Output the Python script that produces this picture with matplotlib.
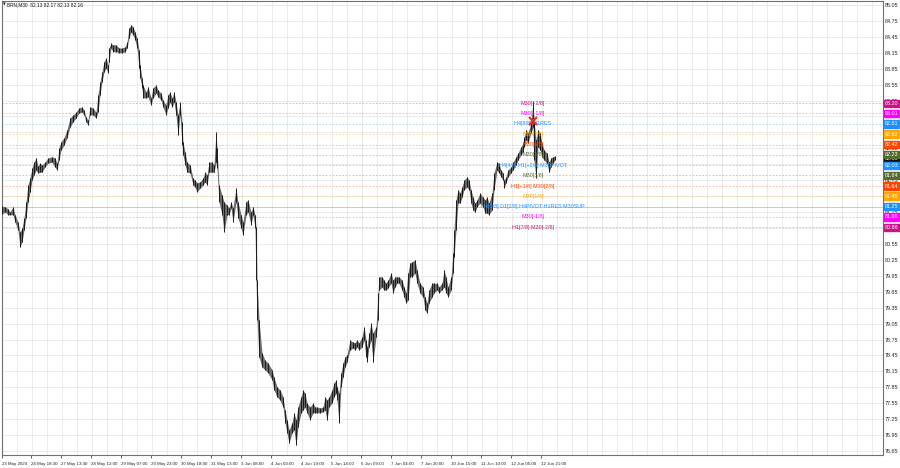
import matplotlib
matplotlib.use("Agg")
import matplotlib.pyplot as plt
from matplotlib.ticker import FixedLocator

plt.rcParams["font.family"] = ["Liberation Sans", "DejaVu Sans"]

TITLE = "BRN,M30  82.13 82.17 82.13 82.16"

# bar index (M30 bars from 23 May 2024) with high / low
bars = [0, 3, 6, 8, 11, 13, 16, 18, 20, 22, 24, 26, 28, 30, 32, 34, 36, 38, 40, 43,
        46, 50, 53, 55, 57, 59, 62, 65, 68, 71, 74, 77, 80, 82, 84, 86, 88, 91, 94, 96,
        98, 100, 102, 104, 106, 107, 109, 111, 114, 117, 120, 123, 125, 127, 129, 131, 133, 135, 137, 138,
        140, 141, 144, 146, 149, 151, 154, 156, 159, 161, 164, 166, 168, 170, 172, 174, 176, 178, 180, 181,
        183, 185, 188, 191, 193, 195, 198, 201, 203, 205, 207, 210, 212, 214, 215, 217, 220, 222, 225, 227,
        229, 231, 234, 236, 239, 241, 244, 246, 249, 251, 253, 254, 255, 257, 260, 263, 266, 270, 272, 275,
        278, 281, 283, 285, 287, 290, 292, 294, 296, 299, 301, 303, 305, 308, 311, 313, 315, 318, 321, 323,
        325, 327, 330, 332, 334, 335, 337, 339, 341, 343, 345, 348, 351, 353, 355, 357, 360, 362, 364, 365,
        367, 369, 371, 374, 376, 377, 380, 382, 384, 386, 389, 391, 393, 395, 397, 400, 402, 404, 406, 408,
        410, 413, 415, 418, 421, 423, 425, 427, 430, 432, 435, 437, 440, 442, 444, 446, 449, 451, 452, 454,
        456, 458, 460, 462, 465, 467, 469, 471, 473, 475, 478, 481, 483, 485, 487, 490, 492, 495, 497, 499,
        501, 502, 504, 506, 509, 511, 514, 516, 519, 521, 522, 524, 526, 529, 531, 532, 534, 536, 538, 540,
        542, 545, 547, 549, 551, 553]

highs = [81.26, 81.25, 81.21, 81.15, 81.25, 81.10, 80.96, 80.77, 80.85, 81.04, 81.34, 81.66, 81.79, 81.98, 82.09, 82.17, 82.02, 82.07, 82.04, 82.09,
         82.17, 82.19, 82.17, 82.07, 82.36, 82.47, 82.55, 82.70, 82.92, 82.98, 83.03, 83.11, 83.13, 83.07, 82.94, 82.88, 83.13, 83.11, 83.03, 83.36,
         83.60, 83.79, 83.98, 84.05, 83.92, 84.24, 84.33, 84.30, 84.30, 84.24, 84.24, 84.26, 84.35, 84.62, 84.67, 84.64, 84.54, 84.43, 84.20, 83.92,
         83.68, 83.54, 83.41, 83.51, 83.30, 83.49, 83.54, 83.45, 83.39, 83.26, 83.17, 83.36, 83.41, 83.30, 83.41, 83.22, 82.98, 83.22, 82.85, 82.47,
         82.28, 82.09, 82.04, 81.79, 81.75, 81.70, 81.72, 81.79, 81.90, 81.85, 82.09, 82.09, 82.04, 82.66, 82.36, 81.66, 81.47, 81.34, 81.28, 81.23,
         81.34, 81.23, 81.60, 81.34, 81.10, 80.96, 81.34, 81.38, 81.15, 81.25, 81.10, 80.87, 79.87, 79.12, 78.50, 78.36, 78.31, 78.18, 78.04, 77.86,
         77.80, 77.67, 77.42, 77.24, 77.05, 77.18, 77.37, 77.24, 77.48, 77.67, 77.80, 77.74, 77.55, 77.48, 77.55, 77.48, 77.48, 77.46, 77.48, 77.67,
         77.61, 77.67, 77.80, 77.93, 77.99, 77.86, 77.74, 78.12, 78.31, 78.42, 78.46, 78.74, 78.70, 78.69, 78.74, 78.69, 78.80, 78.99, 78.74, 78.61,
         78.87, 79.06, 78.87, 78.99, 79.63, 79.93, 79.93, 79.87, 79.81, 79.87, 80.00, 79.87, 79.93, 79.93, 79.93, 79.87, 79.74, 79.63, 80.00, 80.19,
         80.21, 80.25, 80.06, 79.81, 79.74, 79.55, 79.44, 79.68, 79.81, 79.81, 79.81, 79.74, 79.81, 80.06, 79.93, 79.74, 79.93, 80.38, 80.81, 81.38,
         81.57, 81.51, 81.62, 81.75, 81.81, 81.75, 81.57, 81.43, 81.32, 81.38, 81.51, 81.43, 81.38, 81.43, 81.32, 81.51, 81.89, 82.09, 82.07, 81.94,
         81.89, 81.75, 81.81, 81.94, 82.00, 82.09, 82.19, 82.26, 82.38, 82.45, 82.56, 82.70, 82.64, 82.83, 83.24, 82.88, 82.51, 82.70, 82.64, 82.45,
         82.32, 82.26, 82.09, 82.17, 82.19, 82.21]

lows = [81.11, 81.15, 81.10, 81.10, 81.10, 80.96, 80.81, 80.49, 80.59, 80.81, 81.04, 81.34, 81.53, 81.75, 81.85, 81.94, 81.89, 81.90, 81.90, 82.00,
        82.07, 82.09, 82.00, 81.94, 82.13, 82.32, 82.41, 82.55, 82.75, 82.85, 82.92, 83.02, 83.03, 82.98, 82.85, 82.79, 82.98, 82.98, 82.92, 83.03,
        83.36, 83.60, 83.79, 83.86, 83.77, 83.98, 84.24, 84.17, 84.17, 84.15, 84.15, 84.17, 84.24, 84.43, 84.54, 84.49, 84.39, 84.24, 83.86, 83.68,
        83.49, 83.30, 83.30, 83.32, 83.17, 83.30, 83.39, 83.32, 83.26, 83.13, 82.98, 83.11, 83.22, 83.13, 83.22, 82.98, 82.60, 82.98, 82.41, 82.23,
        82.04, 81.90, 81.89, 81.66, 81.62, 81.53, 81.60, 81.66, 81.72, 81.66, 81.90, 81.90, 81.90, 82.09, 81.98, 81.34, 81.10, 80.77, 81.10, 81.10,
        81.23, 80.96, 81.34, 81.04, 80.85, 80.72, 81.10, 81.15, 80.91, 81.10, 80.85, 79.87, 79.12, 78.42, 78.23, 78.18, 78.12, 77.99, 77.80, 77.67,
        77.61, 77.48, 77.18, 76.99, 76.80, 76.99, 77.05, 76.76, 77.10, 77.37, 77.42, 77.48, 77.37, 77.24, 77.37, 77.37, 77.37, 77.37, 77.39, 77.42,
        77.24, 77.48, 77.55, 77.67, 77.74, 77.61, 77.18, 77.86, 78.04, 78.23, 78.33, 78.55, 78.59, 78.55, 78.61, 78.55, 78.61, 78.74, 78.42, 78.33,
        78.61, 78.74, 78.33, 78.80, 79.12, 79.68, 79.74, 79.68, 79.68, 79.72, 79.81, 79.63, 79.74, 79.81, 79.81, 79.68, 79.55, 79.44, 79.49, 79.93,
        79.93, 80.00, 79.81, 79.63, 79.55, 79.31, 79.25, 79.44, 79.55, 79.63, 79.68, 79.63, 79.68, 79.74, 79.63, 79.55, 79.68, 80.00, 80.30, 80.81,
        81.32, 81.32, 81.43, 81.57, 81.62, 81.57, 81.32, 81.19, 81.15, 81.25, 81.32, 81.25, 81.13, 81.13, 81.10, 81.19, 81.57, 81.94, 81.89, 81.81,
        81.75, 81.60, 81.70, 81.81, 81.89, 81.94, 82.04, 82.13, 82.23, 82.28, 82.38, 82.51, 82.45, 82.64, 82.75, 82.13, 81.79, 82.38, 82.32, 82.19,
        82.13, 82.07, 81.90, 82.00, 82.07, 82.13]

# Murrey math levels (M30 grid with H1/H4/D1 confluences)
mm_prices = [83.20, 83.01, 82.81, 82.62, 82.42, 82.23, 82.03, 81.84, 81.64, 81.45, 81.25, 81.06, 80.86]
mm_texts = ["M30[+2/8]", "M30[+1/8]", "H4[8/8] H1RES", "M30[7/8]", "M30[6/8]", "M30[5/8]",
            "H4[4/8] H1[+2/8] M30PIVOT", "M30[3/8]", "H1[+1/8] M30[2/8]", "M30[1/8]",
            "H4[0/8] D1[2/8] H4PIVOT H1RES M30SUP", "M30[-1/8]", "H1[7/8] M30[-2/8]"]
mm_colors = ["#C71585", "#FF00FF", "#1E90FF", "#FFA500", "#FF4500", "#556B2F", "#1E90FF",
             "#556B2F", "#FF4500", "#FFA500", "#1E90FF", "#FF00FF", "#C71585"]
mm_solid = [False, False, False, False, False, False, False, False, False, False, True, False, False]
mm_label_bar = 531

signal_bar = 531
signal_price = 82.87
bid_price = 82.16

y_ticks = [85.05, 84.75, 84.45, 84.15, 83.85, 83.55, 83.25, 82.95, 82.65, 82.35,
           82.05, 81.75, 81.45, 81.15, 80.85, 80.55, 80.25, 79.95, 79.65, 79.35,
           79.05, 78.75, 78.45, 78.15, 77.85, 77.55, 77.25, 76.95, 76.65]
y_tick_labels = ["%.2f" % v for v in y_ticks]

x_labels = ["23 May 2024", "24 May 18:30", "27 May 13:30", "28 May 12:00", "29 May 07:00",
            "29 May 23:00", "30 May 18:00", "31 May 13:00", "3 Jun 08:00", "4 Jun 03:00",
            "4 Jun 19:00", "5 Jun 14:00", "6 Jun 09:00", "7 Jun 04:00", "7 Jun 20:00",
            "10 Jun 15:00", "11 Jun 10:00", "12 Jun 05:00", "12 Jun 21:00"]
x_label_bars = [0, 29, 59, 89, 119, 149, 179, 209, 239, 269, 299, 329, 359, 389, 419,
                449, 479, 509, 539]
grid_bars = list(range(0, 882, 15))

W, H = 900, 468
fig = plt.figure(figsize=(W / 100, H / 100), dpi=100)
ax = fig.add_axes([2 / W, 1 - 455 / H, 881 / W, 454 / H])
ax.set_xlim(0, 881)
ax.set_ylim(76.575, 85.125)

# grid
for b in grid_bars:
    ax.axvline(b, color="#e8e8e8", lw=0.6, zorder=0)
for p in y_ticks:
    ax.axhline(p, color="#e8e8e8", lw=0.6, zorder=0)

# level lines
for p, c, solid in zip(mm_prices, mm_colors, mm_solid):
    if solid:
        ax.axhline(p, color=c, lw=0.7, alpha=0.4, zorder=1)
    else:
        ax.axhline(p, color=c, lw=0.6, alpha=0.4, ls=(0, (2, 2)), zorder=1)

# price bars
ax.fill_between(bars, lows, highs, color="#6a6a6a", lw=0, zorder=3)
ax.vlines(bars, lows, highs, color="#1a1a1a", lw=0.7, zorder=4)

# level texts on chart
for p, t, c in zip(mm_prices, mm_texts, mm_colors):
    ax.text(mm_label_bar, p, t, color=c, fontsize=3.9, ha="center", va="center", zorder=6)

ax.plot([signal_bar], [signal_price], marker="x", color="#E8302A", ms=6, mew=1.6, zorder=7)

# axes styling
for s in ax.spines.values():
    s.set_color("#707070")
    s.set_linewidth(0.8)
ax.yaxis.tick_right()
ax.yaxis.set_major_locator(FixedLocator(y_ticks))
ax.set_yticklabels(y_tick_labels)
ax.tick_params(axis="y", length=0, pad=1.5, labelsize=3.9, colors="#222222")
ax.xaxis.set_major_locator(FixedLocator(x_label_bars))
ax.set_xticklabels(x_labels, ha="left")
ax.tick_params(axis="x", length=2, pad=3, labelsize=3.2, colors="#222222", width=0.5)

# coloured price tags on the right scale
tag_kw = dict(xycoords=("axes fraction", "data"), textcoords="offset points",
              ha="left", va="center", fontsize=3.9, color="white", zorder=10,
              annotation_clip=False)
ax.annotate("%.2f" % bid_price, xy=(1, bid_price), xytext=(1.3, 0),
            bbox=dict(boxstyle="square,pad=0.22", fc="#111111", ec="#111111"), **tag_kw)
for p, c in zip(mm_prices, mm_colors):
    ax.annotate("%.2f" % p, xy=(1, p), xytext=(1.3, 0),
                bbox=dict(boxstyle="square,pad=0.22", fc=c, ec=c), **tag_kw)

fig.text(3 / W, 1 - 5 / H, "\u25bc", fontsize=2.6, va="center", ha="left",
         family=["DejaVu Sans"], color="#222222")
fig.text(7 / W, 1 - 5 / H, TITLE, fontsize=3.4, va="center", ha="left", color="#111111")

fig.savefig("out.png", dpi=100, facecolor="white")
